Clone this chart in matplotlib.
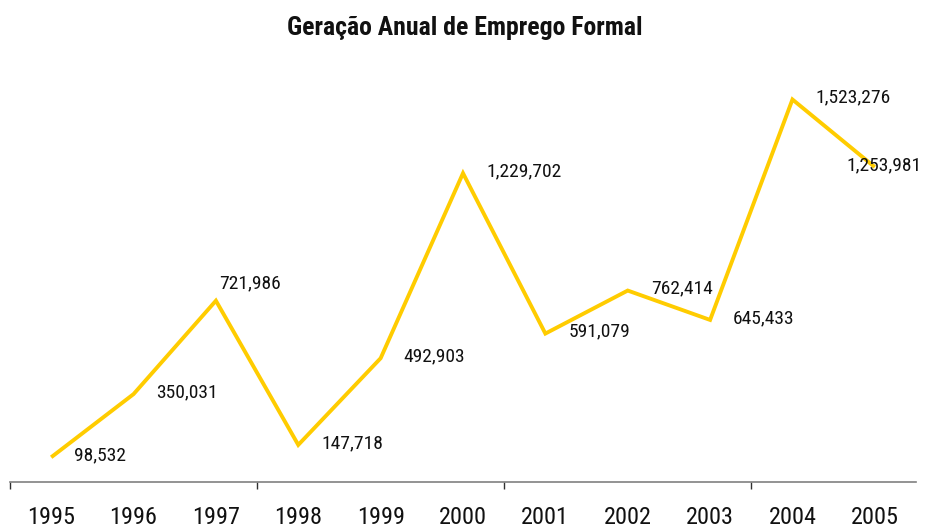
import matplotlib
matplotlib.use("Agg")
import matplotlib.pyplot as plt
from matplotlib import font_manager

years = ["1995", "1996", "1997", "1998", "1999", "2000", "2001", "2002", "2003", "2004", "2005"]
values = [98532, 350031, 721986, 147718, 492903, 1229702, 591079, 762414, 645433, 1523276, 1253981]
title = "Geração Anual de Emprego Formal"

avail = {f.name for f in font_manager.fontManager.ttflist}
fam = None
for cand in ["Liberation Sans Narrow", "Arial Narrow", "Roboto Condensed", "Liberation Sans"]:
    if cand in avail:
        fam = cand
        break
if fam is None:
    fam = "DejaVu Sans"
plt.rcParams["font.family"] = [fam, "DejaVu Sans"]

W, H = 928, 529
fig = plt.figure(figsize=(W / 100, H / 100), dpi=100)
left_px, right_px = 10, 916
bottom_px, top_px = 482, 30
ax = fig.add_axes([left_px / W, (H - bottom_px) / H, (right_px - left_px) / W, (bottom_px - top_px) / H])

x = list(range(len(years)))
ax.plot(x, values, color="#FFCC00", lw=2.8, solid_joinstyle="miter", solid_capstyle="butt", zorder=3)
ax.set_xlim(-0.5, len(years) - 0.5)
ax.set_ylim(0, 1800000)

for s in ["top", "right", "left"]:
    ax.spines[s].set_visible(False)
ax.spines["bottom"].set_color("#808080")
ax.spines["bottom"].set_linewidth(1.2)
ax.set_yticks([])

ax.set_xticks([-0.5, 2.5, 5.5, 8.5])
ax.set_xticklabels([])
ax.tick_params(axis="x", which="major", length=5, width=1, color="#303030", direction="out")
ax.set_xticks(x, minor=True)
ax.set_xticklabels(years, minor=True)
ax.tick_params(axis="x", which="minor", length=0, pad=17, labelsize=17.5, labelcolor="#111111")

for i, v in enumerate(values):
    lab = f"{v:,}"
    if i == 2:
        off, ha = (3, 17), "left"
    elif i == len(values) - 1:
        off, ha = (47, 2), "right"
    else:
        off, ha = (23, 2), "left"
    ax.annotate(lab, (i, v), xytext=off, textcoords="offset pixels", ha=ha, va="center",
                fontsize=14, color="#111111", zorder=4)

fig.text(465 / W, 1 - 28 / H, title, ha="center", va="center", fontsize=18.5, fontweight="bold", color="#111111")

fig.savefig("out.png", dpi=100)
